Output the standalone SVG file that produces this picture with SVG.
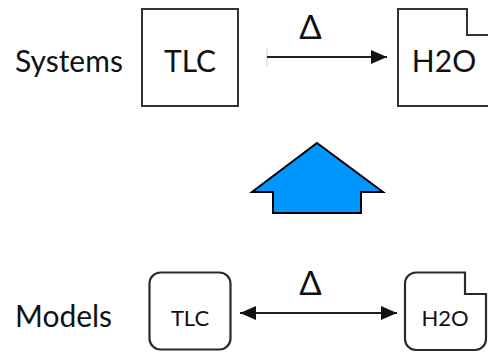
<svg xmlns="http://www.w3.org/2000/svg" width="488" height="353" viewBox="0 0 488 353">
  <defs>
    <marker id="head" viewBox="0 0 16 14" refX="16" refY="7" markerWidth="16" markerHeight="14" markerUnits="userSpaceOnUse" orient="auto-start-reverse">
      <path d="M0,0 L16,7 L0,14 Z" fill="#111"/>
    </marker>
    <style>
      .lbl { font-family: Lato, "Open Sans", "Liberation Sans", sans-serif; fill: #111; }
      .big { font-size: 30px; }
      .small { font-size: 22px; }
      .delta { font-size: 33px; text-anchor: middle; }
      .box { fill: #fff; stroke: #333; stroke-width: 2; }
      .rbox { fill: #fff; stroke: #2a2a2a; stroke-width: 2.2; }
      .conn { stroke: #222; stroke-width: 2; fill: none; }
    </style>
  </defs>

  <rect width="488" height="353" fill="#fff"/>

  <!-- row labels -->
  <text class="lbl big" x="15" y="72">Systems</text>
  <text class="lbl big" x="15" y="327">Models</text>

  <!-- systems row -->
  <g id="sys-tlc">
    <rect class="box" x="142" y="9" width="96" height="97"/>
    <text class="lbl big" x="190" y="72" text-anchor="middle">TLC</text>
  </g>
  <g id="sys-h2o">
    <path class="box" d="M398,9 H467 V35 H490 V106 H398 Z"/>
    <text class="lbl big" x="444" y="72" text-anchor="middle">H2O</text>
  </g>

  <!-- models row -->
  <g id="mod-tlc">
    <rect class="rbox" x="149.5" y="272.5" width="81" height="77" rx="11"/>
    <text class="lbl small" x="190" y="326" text-anchor="middle">TLC</text>
  </g>
  <g id="mod-h2o">
    <path class="rbox" d="M416,272.5 H465 V294 H486 V339 A11,11 0 0 1 475,350 H416 A11,11 0 0 1 405,339 V283.5 A11,11 0 0 1 416,272.5 Z"/>
    <text class="lbl small" x="445" y="326" text-anchor="middle">H2O</text>
  </g>

  <!-- connectors -->
  <g id="connectors">
    <line x1="267" y1="49" x2="267" y2="66" stroke="#ccc" stroke-width="1"/>
    <line class="conn" x1="267" y1="57" x2="387" y2="57" marker-end="url(#head)"/>
    <text class="lbl delta" x="310.5" y="39">Δ</text>

    <line class="conn" x1="240" y1="313" x2="397" y2="313" marker-start="url(#head)" marker-end="url(#head)"/>
    <text class="lbl delta" x="310.5" y="295">Δ</text>

    <!-- abstraction arrow between rows -->
    <polygon points="317,143 383,192 361,192 361,213 273,213 273,192 252,192" fill="#0096ff" stroke="#000" stroke-width="2" stroke-linejoin="miter"/>
  </g>
</svg>
